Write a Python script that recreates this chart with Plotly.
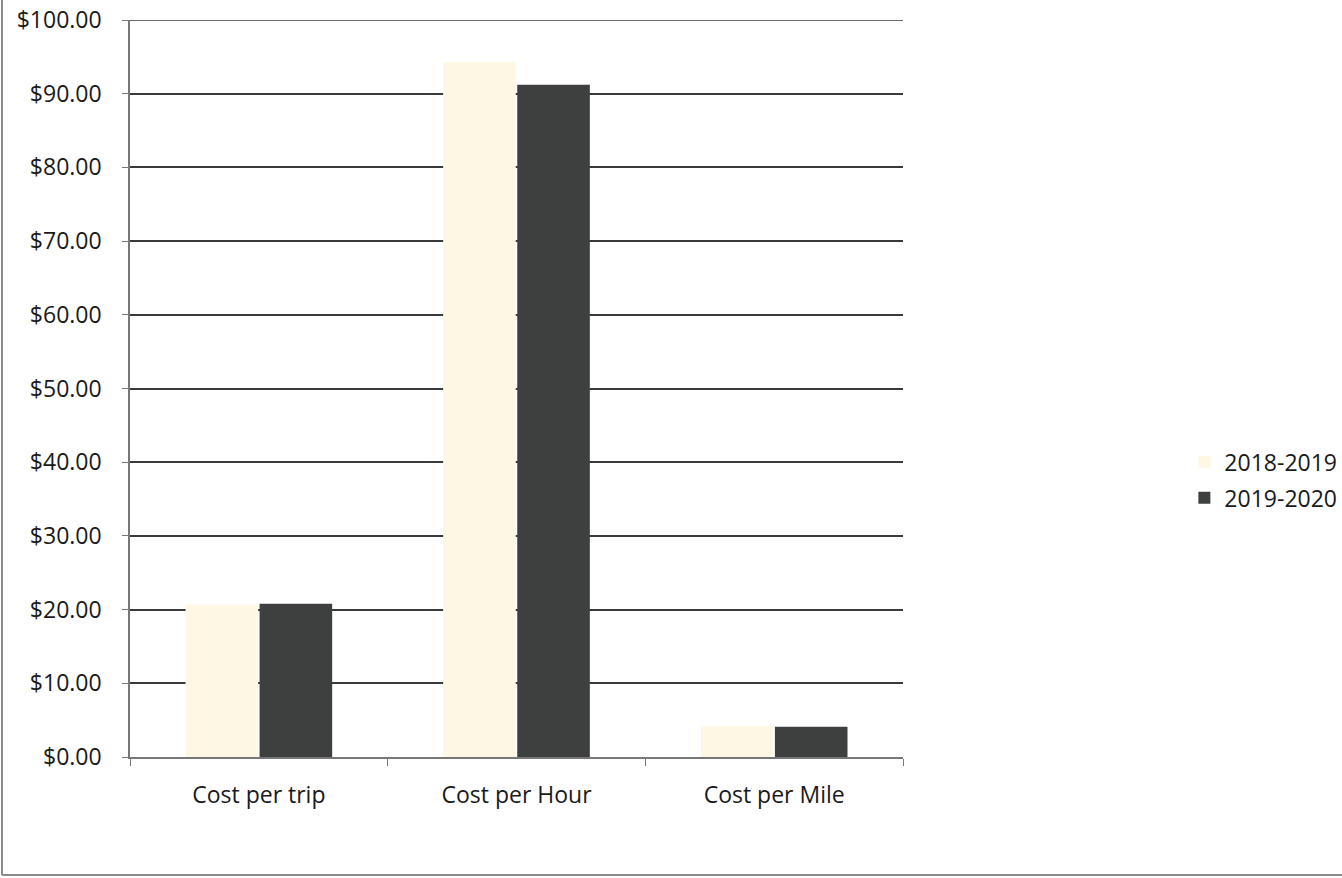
import plotly.graph_objects as go

# Cost metrics compared across two fiscal years
categories = ["Cost per trip", "Cost per Hour", "Cost per Mile"]
fy_2018_2019 = [20.70, 94.30, 4.20]
fy_2019_2020 = [20.80, 91.20, 4.10]
series_names = ["2018-2019", "2019-2020"]
y_ticks = [0, 10, 20, 30, 40, 50, 60, 70, 80, 90, 100]

font_family = "Open Sans, Lato, Liberation Sans, sans-serif"

fig = go.Figure()
fig.add_trace(go.Bar(
    x=categories, y=fy_2018_2019, name=series_names[0], legendgroup="a",
    marker=dict(color="#FEF7E4", line=dict(width=0)),
))
fig.add_trace(go.Bar(
    x=categories, y=fy_2019_2020, name=series_names[1], legendgroup="b",
    marker=dict(color="#3E403F", line=dict(width=0)),
))

W, H = 1342, 878
L, R, T, B = 130, 439, 20, 121

fig.update_layout(
    width=W, height=H,
    margin=dict(l=L, r=R, t=T, b=B, autoexpand=False),
    paper_bgcolor="white", plot_bgcolor="white",
    barmode="group", bargap=0.425, bargroupgap=0.02,
    font=dict(family=font_family, size=23, color="#1a1a1a"),
    showlegend=True,
    legend=dict(x=1.364, y=0.376, xanchor="left", yanchor="middle",
                bgcolor="rgba(0,0,0,0)", font=dict(size=23),
                itemsizing="constant", tracegroupgap=3),
    xaxis=dict(
        type="category", showgrid=False, showline=True, automargin=False,
        linecolor="#777", linewidth=1.5,
        ticks="outside", tickson="boundaries", ticklen=7,
        tickcolor="#777", tickwidth=1,
        tickfont=dict(size=23), ticklabelstandoff=17,
    ),
    yaxis=dict(
        range=[0, 100], tickvals=y_ticks, tickformat="$,.2f", automargin=False,
        showgrid=True, gridcolor="#3a3a3a", gridwidth=1.6,
        showline=True, linecolor="#777", linewidth=1.5,
        ticks="outside", ticklen=6, tickcolor="#777",
        tickfont=dict(size=23), ticklabelstandoff=16, zeroline=False,
    ),
)

# Gridline along the top of the value range
fig.add_shape(type="line", xref="paper", yref="y", layer="below",
              x0=-0.01, x1=1, y0=y_ticks[-1], y1=y_ticks[-1],
              line=dict(color="#3a3a3a", width=1.6))

# Outer chart frame (left and bottom edges)
pw, ph = W - L - R, H - T - B
fig.add_shape(type="line", xref="paper", yref="paper",
              x0=(2 - L) / pw, x1=(2 - L) / pw,
              y0=(H - B - 875) / ph, y1=(H - B) / ph,
              line=dict(color="#8a8a8a", width=2))
fig.add_shape(type="line", xref="paper", yref="paper",
              x0=(2 - L) / pw, x1=(W - L) / pw,
              y0=(H - B - 875) / ph, y1=(H - B - 875) / ph,
              line=dict(color="#8a8a8a", width=2))

fig.write_html("out.html")
